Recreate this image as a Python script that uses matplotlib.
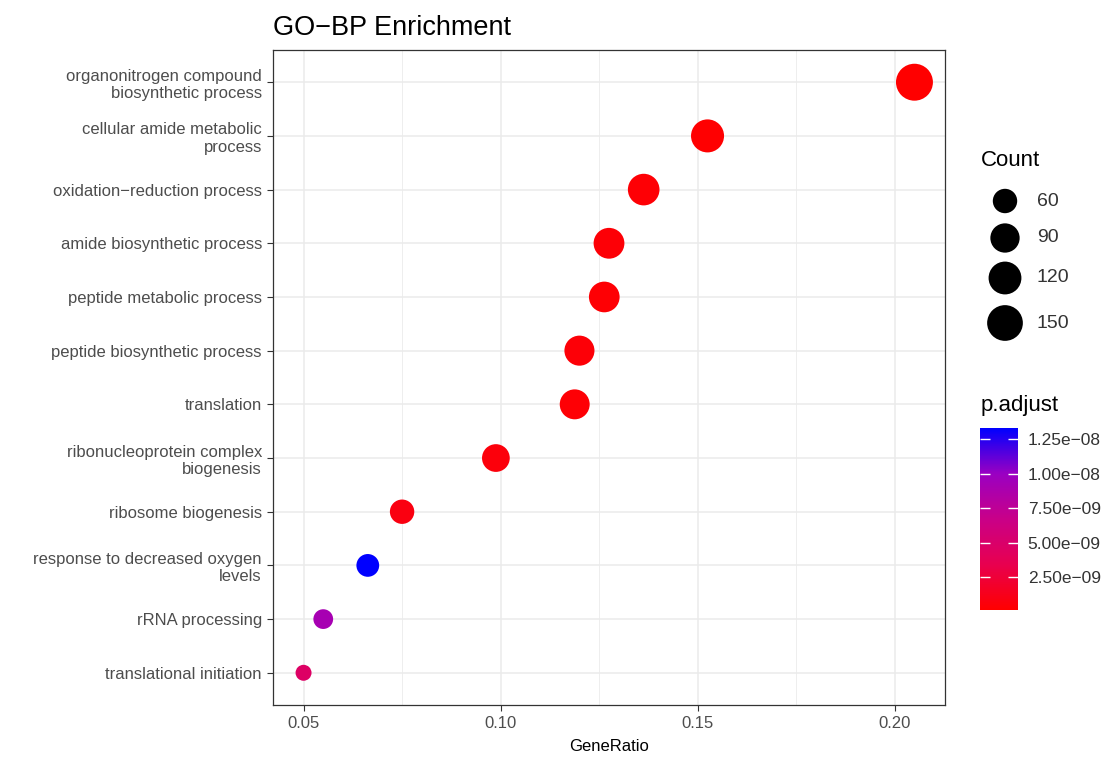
import numpy as np
import matplotlib.pyplot as plt
from matplotlib.colors import LinearSegmentedColormap, Normalize
from matplotlib.colorbar import ColorbarBase

plt.rcParams['font.family'] = ['Liberation Sans', 'DejaVu Sans']

# GO biological process terms, top to bottom
terms = [
    "organonitrogen compound\nbiosynthetic process",
    "cellular amide metabolic\nprocess",
    "oxidation\u2212reduction process",
    "amide biosynthetic process",
    "peptide metabolic process",
    "peptide biosynthetic process",
    "translation",
    "ribonucleoprotein complex\nbiogenesis",
    "ribosome biogenesis",
    "response to decreased oxygen\nlevels",
    "rRNA processing",
    "translational initiation",
]
gene_ratio = [0.2050, 0.1525, 0.1363, 0.1275, 0.1263, 0.1200,
              0.1188, 0.0988, 0.0750, 0.0663, 0.0550, 0.0500]
counts = [164, 122, 109, 102, 101, 96, 95, 79, 60, 53, 44, 40]
p_adjust = [1.1e-10, 2.0e-10, 3.5e-10, 4.0e-10, 3.0e-10, 4.5e-10,
            3.2e-10, 6.0e-10, 8.0e-10, 1.33e-8, 9.1e-9, 4.6e-9]

x_ticks = [0.05, 0.10, 0.15, 0.20]
count_breaks = [60, 90, 120, 150]
p_breaks = [2.5e-9, 5.0e-9, 7.5e-9, 1.0e-8, 1.25e-8]

W, H = 1108, 757
fig = plt.figure(figsize=(W / 100, H / 100), dpi=100)

# red -> blue gradient, interpolated through purple like ggplot's Lab blend
cmap = LinearSegmentedColormap.from_list(
    "padj", ["#FF0000", "#E8004F", "#C90088", "#9A00C2", "#0000FF"])
norm = Normalize(vmin=min(p_adjust), vmax=max(p_adjust))

# dot diameter (points) grows with sqrt of rescaled count
d_min, d_max = 11.5, 26.6
c_lo, c_hi = min(counts), max(counts)


def dot_size(c):
    d = d_min + (d_max - d_min) * np.sqrt((np.asarray(c) - c_lo) / (c_hi - c_lo))
    return d ** 2


ax = fig.add_axes([273 / W, 1 - 705 / H, (945 - 273) / W, (705 - 50) / H])
n = len(terms)
ypos = np.arange(n)[::-1]
ax.scatter(gene_ratio, ypos, s=dot_size(counts), c=cmap(norm(p_adjust)),
           edgecolors='none', zorder=3)

span = max(gene_ratio) - min(gene_ratio)
ax.set_xlim(min(gene_ratio) - 0.05 * span, max(gene_ratio) + 0.05 * span)
ax.set_ylim(-0.6, n - 0.4)
ax.set_xticks(x_ticks)
ax.set_xticklabels(["%.2f" % v for v in x_ticks])
ax.set_xticks([0.075, 0.125, 0.175], minor=True)
ax.set_yticks(ypos)
ax.set_yticklabels(terms, linespacing=1.2)
ax.set_axisbelow(True)
ax.grid(which='major', color='#EBEBEB', lw=1.1)
ax.grid(which='minor', axis='x', color='#EBEBEB', lw=0.6)
ax.tick_params(which='major', length=4, width=0.8, color='#333333',
               labelsize=12, labelcolor='#4D4D4D', pad=4)
ax.tick_params(which='minor', length=0)
for sp in ax.spines.values():
    sp.set_color('#333333')
    sp.set_linewidth(0.9)
ax.set_xlabel("GeneRatio", fontsize=12, labelpad=6)

fig.text(273 / W, 1 - 28 / H, "GO\u2212BP Enrichment", fontsize=19.5, va='center')

# size legend
fig.text(981 / W, 1 - 160 / H, "Count", fontsize=16, va='center')
leg = fig.add_axes([0, 0, 1, 1], facecolor='none')
leg.set_xlim(0, W)
leg.set_ylim(H, 0)
leg.axis('off')
key_y = [201, 238, 278, 323]
leg.scatter([1005] * len(count_breaks), key_y, s=dot_size(count_breaks),
            color='black', edgecolors='none')
for cb_val, y in zip(count_breaks, key_y):
    leg.text(1037, y, str(cb_val), fontsize=14, va='center', color='#333333')

# colour legend
fig.text(981 / W, 1 - 406 / H, "p.adjust", fontsize=16, va='center')
cax = fig.add_axes([980 / W, 1 - 610 / H, 38 / W, 182 / H])
cb = ColorbarBase(cax, cmap=cmap, norm=norm, orientation='vertical')
cb.outline.set_visible(False)
cb.set_ticks(p_breaks)
cb.set_ticklabels([("%.2e" % v).replace("-", "\u2212") for v in p_breaks])
cax.yaxis.set_ticks_position('both')
cax.tick_params(direction='in', length=7, width=1, color='white',
                labelsize=12.5, labelcolor='#333333', labelleft=False,
                labelright=True, pad=7)

fig.savefig("out.png", dpi=100)
